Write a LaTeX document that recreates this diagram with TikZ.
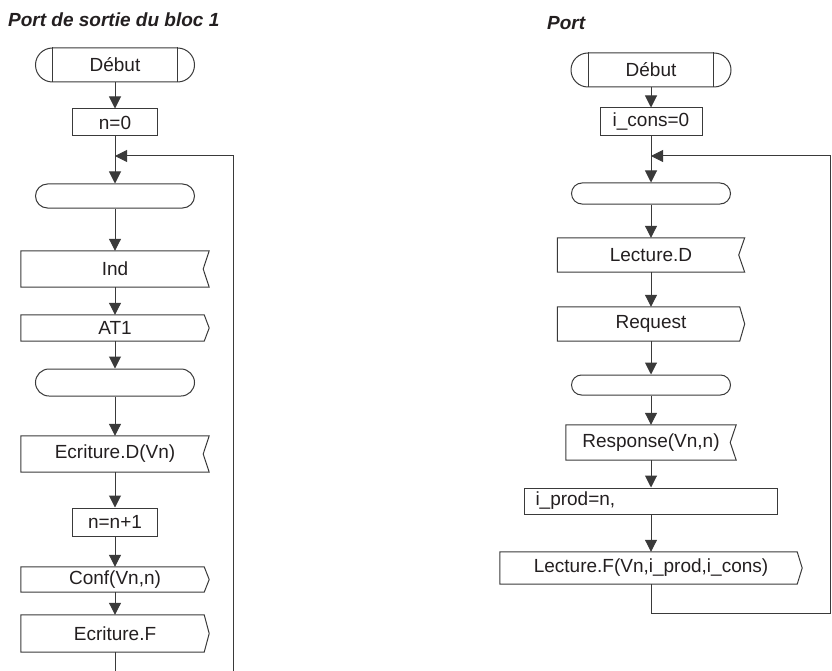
\documentclass[tikz,border=0pt]{standalone}
\usepackage{fontspec}
\setmainfont{Liberation Sans}
\usetikzlibrary{arrows.meta,shapes.misc}
\definecolor{ink}{HTML}{231F20}
\definecolor{edgec}{HTML}{3A3A3A}
\begin{document}
\begin{tikzpicture}[x=1pt,y=-1pt,
  every node/.style={font=\fontsize{19}{22}\selectfont, text=ink},
  sizedbox/.style n args={2}{rectangle, inner sep=0pt, minimum width=#1, minimum height=#2},
  procbox/.style n args={2}{sizedbox={#1}{#2}, draw=edgec, line width=1pt},
  sendbox/.style n args={2}{sizedbox={#1}{#2}},
  recvbox/.style n args={2}{sizedbox={#1}{#2}},
  termbox/.style n args={2}{rounded rectangle, inner sep=0pt, minimum width=#1, minimum height=#2, draw=edgec, line width=1pt},
  startbox/.style n args={2}{termbox={#1}{#2}},
  outlinepath/.style={draw=edgec, line width=1pt, line join=miter},
  flowline/.style={draw=edgec, line width=1pt},
  flowarrow/.style={flowline, -{Triangle[length=12pt,width=12pt]}},
  heading/.style={font=\fontsize{19}{22}\selectfont\bfseries\itshape, anchor=base west, inner sep=0pt}
]
\useasboundingbox (0,0) rectangle (832,671);

% ---------- left chart: output port of block 1 ----------
\node[heading] (title1) at (8,27) {Port de sortie du bloc 1};
\node[startbox={159}{34}] (deb1) at (115,65) {Début};
\node[procbox={85}{27}] (n0) at (115,122.5) {n=0};
\coordinate (j1) at (115,156);
\node[termbox={159}{24}] (t1) at (115,196) {};
\node[recvbox={188}{36}] (ind) at (115,269) {Ind};
\node[sendbox={188}{26}] (at1) at (115,328) {AT1};
\node[termbox={159}{27}] (t2) at (115,382.5) {};
\node[recvbox={188}{36}] (ecrD) at (115,454) {Ecriture.D(Vn)};
\node[procbox={85}{28}] (nn1) at (115,522) {n=n+1};
\node[sendbox={188}{25}] (conf) at (115,579.5) {Conf(Vn,n)};
\node[sendbox={188}{37}] (ecrF) at (115,633.5) {Ecriture.F};
\coordinate (lend) at (115,673);
\coordinate (rend) at (233,673);

% ---------- right chart: port ----------
\node[heading] (title2) at (547,30) {Port};
\node[startbox={160}{34}] (deb2) at (651,70) {Début};
\node[procbox={102}{28}] (ic0) at (651,122) {i\_cons=0};
\coordinate (j2) at (651,156);
\node[termbox={159}{21}] (t3) at (651,193.5) {};
\node[recvbox={187}{34}] (lecD) at (651,255) {Lecture.D};
\node[sendbox={187}{34}] (req) at (651,324) {Request};
\node[termbox={159}{20}] (t4) at (651,385) {};
\node[recvbox={170}{35}] (resp) at (651,442.5) {Response(Vn,n)};
\node[procbox={253}{26}, text width=231pt, inner xsep=11pt, align=left] (iprod) at (651,501) {i\_prod=n,};
\node[sendbox={302}{32}] (lecF) at (651,568) {Lecture.F(Vn,i\_prod,i\_cons)};
\coordinate (rc) at (830.5,613);

% outlines of the signal symbols
\foreach \s in {at1,conf,ecrF,req,lecF}
  \draw[outlinepath] (\s.north west) -- ([xshift=-5pt]\s.north east) -- (\s.east)
    -- ([xshift=-5pt]\s.south east) -- (\s.south west) -- cycle;
\foreach \s in {ind,ecrD,lecD,resp}
  \draw[outlinepath] (\s.north west) -- (\s.north east) -- ([xshift=-6pt]\s.east)
    -- (\s.south east) -- (\s.south west) -- cycle;
% side bars of the start symbols
\foreach \s in {deb1,deb2}{
  \draw[outlinepath] ([xshift=-62.5pt]\s.north) -- ([xshift=-62.5pt]\s.south);
  \draw[outlinepath] ([xshift=62.5pt]\s.north) -- ([xshift=62.5pt]\s.south);
}

% connectors, left chart
\draw[flowarrow] (deb1.south) -- (n0.north);
\draw[flowarrow] (n0.south) -- (t1.north);
\draw[flowarrow] (t1.south) -- (ind.north);
\draw[flowarrow] (ind.south) -- (at1.north);
\draw[flowarrow] (at1.south) -- (t2.north);
\draw[flowarrow] (t2.south) -- (ecrD.north);
\draw[flowarrow] (ecrD.south) -- (nn1.north);
\draw[flowarrow] (nn1.south) -- (conf.north);
\draw[flowarrow] (conf.south) -- (ecrF.north);
\draw[flowline] (ecrF.south) -- (lend);
\draw[flowarrow] (rend) |- (j1);

% connectors, right chart
\draw[flowarrow] (deb2.south) -- (ic0.north);
\draw[flowarrow] (ic0.south) -- (t3.north);
\draw[flowarrow] (t3.south) -- (lecD.north);
\draw[flowarrow] (lecD.south) -- (req.north);
\draw[flowarrow] (req.south) -- (t4.north);
\draw[flowarrow] (t4.south) -- (resp.north);
\draw[flowarrow] (resp.south) -- (iprod.north);
\draw[flowarrow] (iprod.south) -- (lecF.north);
\draw[flowline] (lecF.south) |- (rc);
\draw[flowarrow] (rc) |- (j2);
\end{tikzpicture}
\end{document}
